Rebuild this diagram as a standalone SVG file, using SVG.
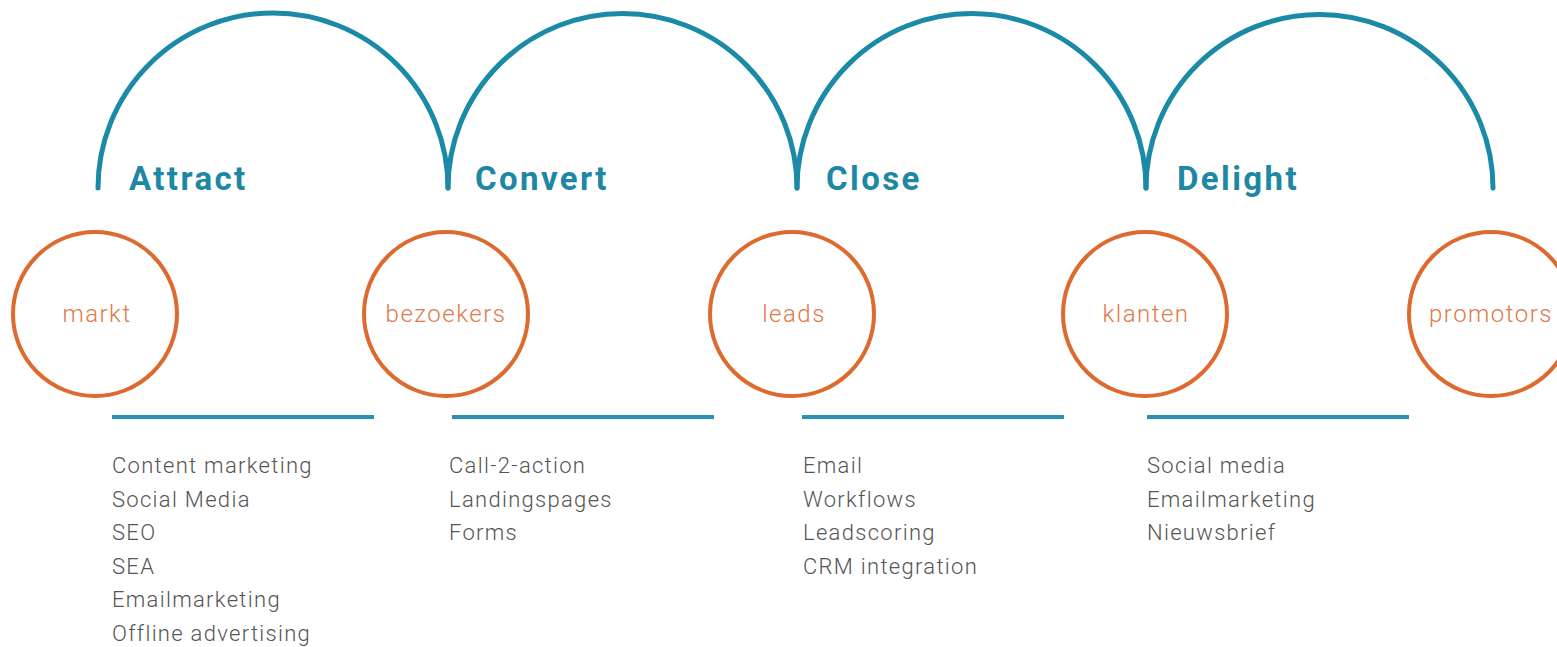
<svg xmlns="http://www.w3.org/2000/svg" width="1557" height="647" viewBox="0 0 1557 647">
<style>
.arc{fill:none;stroke:#1b8aa6;stroke-width:5;stroke-linecap:round}
.bar{stroke:#2a91b0;stroke-width:4}
.ring{fill:none;stroke:#dd6a2e;stroke-width:4}
.stage{font-family:Roboto,"Liberation Sans",sans-serif;font-weight:700;font-size:33px;fill:#1e87a3;letter-spacing:2.4px}
.lbl{font-family:Roboto,"Liberation Sans",sans-serif;font-weight:300;font-size:24px;fill:#e07a4a;letter-spacing:1.5px;text-anchor:middle}
.item{font-family:Roboto,"Liberation Sans",sans-serif;font-weight:300;font-size:22px;fill:#555;letter-spacing:1.3px}
</style>
<rect width="1557" height="647" fill="#fff"/>
<g id="connectors">
<path class="arc" d="M98,188 A175,175 0 0 1 448,188"/>
<path class="arc" d="M448,188 A174.5,174.5 0 0 1 797,188"/>
<path class="arc" d="M797,188 A174.5,174.5 0 0 1 1146,188"/>
<path class="arc" d="M1146,188 A173.5,173.5 0 0 1 1493,188"/>
<line class="bar" x1="112" y1="417" x2="374" y2="417"/>
<line class="bar" x1="452" y1="417" x2="714" y2="417"/>
<line class="bar" x1="802" y1="417" x2="1064" y2="417"/>
<line class="bar" x1="1147" y1="417" x2="1409" y2="417"/>
</g>
<g id="stage-attract"><text class="stage" x="129" y="190">Attract</text></g>
<g id="stage-convert"><text class="stage" x="475" y="190">Convert</text></g>
<g id="stage-close"><text class="stage" x="826" y="190">Close</text></g>
<g id="stage-delight"><text class="stage" x="1177" y="190">Delight</text></g>
<g id="node-markt"><circle class="ring" cx="95" cy="314" r="82"/><text class="lbl" x="97" y="322">markt</text></g>
<g id="node-bezoekers"><circle class="ring" cx="446" cy="314" r="82"/><text class="lbl" x="446" y="322">bezoekers</text></g>
<g id="node-leads"><circle class="ring" cx="792" cy="314" r="82"/><text class="lbl" x="794" y="322">leads</text></g>
<g id="node-klanten"><circle class="ring" cx="1145" cy="314" r="82"/><text class="lbl" x="1146" y="322">klanten</text></g>
<g id="node-promotors"><circle class="ring" cx="1491" cy="314" r="82"/><text class="lbl" x="1491" y="322">promotors</text></g>
<g id="list-attract" class="item">
<text class="item" x="112" y="473">Content marketing</text>
<text class="item" x="112" y="507">Social Media</text>
<text class="item" x="112" y="540">SEO</text>
<text class="item" x="112" y="574">SEA</text>
<text class="item" x="112" y="607">Emailmarketing</text>
<text class="item" x="112" y="641">Offline advertising</text>
</g>
<g id="list-convert">
<text class="item" x="449" y="473">Call-2-action</text>
<text class="item" x="449" y="507">Landingspages</text>
<text class="item" x="449" y="540">Forms</text>
</g>
<g id="list-close">
<text class="item" x="803" y="473">Email</text>
<text class="item" x="803" y="507">Workflows</text>
<text class="item" x="803" y="540">Leadscoring</text>
<text class="item" x="803" y="574">CRM integration</text>
</g>
<g id="list-delight">
<text class="item" x="1147" y="473">Social media</text>
<text class="item" x="1147" y="507">Emailmarketing</text>
<text class="item" x="1147" y="540">Nieuwsbrief</text>
</g>
</svg>
